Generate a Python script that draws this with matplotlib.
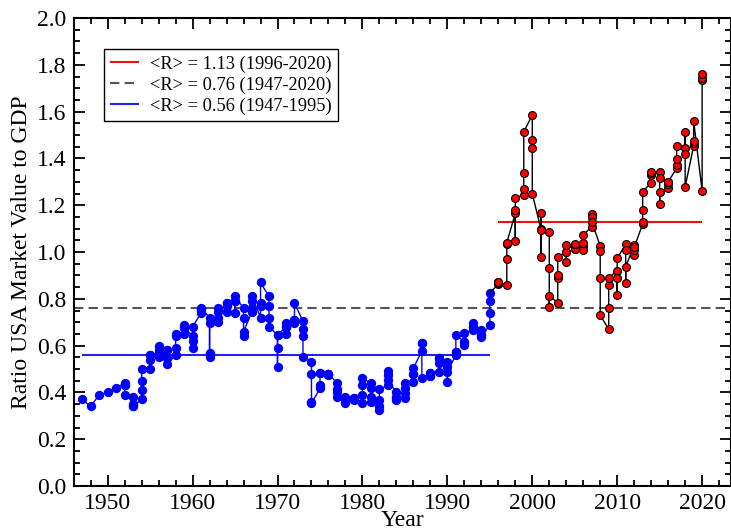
import numpy as np
import matplotlib.pyplot as plt
from matplotlib.ticker import MultipleLocator

# annual values before quarterly data starts
annual_years = [1947, 1948, 1949, 1950, 1951]
annual_ratio = [0.37, 0.34, 0.39, 0.40, 0.42]

# quarterly values, four per year, 1952-2020
quarter_years = list(range(1952, 2021))
quarter_ratio = [
    0.44, 0.43, 0.43, 0.39,      # 1952
    0.38, 0.35, 0.34, 0.34,      # 1953
    0.37, 0.41, 0.45, 0.50,      # 1954
    0.50, 0.54, 0.56, 0.56,      # 1955
    0.57, 0.60, 0.58, 0.55,      # 1956
    0.58, 0.58, 0.545, 0.52,     # 1957
    0.56, 0.59, 0.64, 0.65,      # 1958
    0.65, 0.69, 0.675, 0.68,     # 1959
    0.64, 0.59, 0.62, 0.68,      # 1960
    0.74, 0.75, 0.755, 0.76,     # 1961
    0.72, 0.55, 0.57, 0.695,     # 1962
    0.70, 0.717, 0.745, 0.76,    # 1963
    0.745, 0.77, 0.78, 0.78,     # 1964
    0.79, 0.74, 0.79, 0.81,      # 1965
    0.76, 0.72, 0.64, 0.66,      # 1966
    0.745, 0.76, 0.79, 0.81,     # 1967
    0.72, 0.78, 0.77, 0.87,      # 1968
    0.81, 0.77, 0.72, 0.68,      # 1969
    0.645, 0.51, 0.59, 0.645,    # 1970
    0.68, 0.695, 0.65, 0.68,     # 1971
    0.695, 0.71, 0.71, 0.78,     # 1972
    0.705, 0.67, 0.64, 0.55,     # 1973
    0.53, 0.477, 0.36, 0.353,    # 1974
    0.417, 0.43, 0.484, 0.484,   # 1975
    0.475, 0.48, 0.48, 0.48,     # 1976
    0.44, 0.415, 0.40, 0.38,     # 1977
    0.353, 0.38, 0.37, 0.36,     # 1978
    0.367, 0.375, 0.37, 0.375,   # 1979
    0.353, 0.39, 0.43, 0.46,     # 1980
    0.44, 0.42, 0.36, 0.38,      # 1981
    0.342, 0.325, 0.367, 0.413,  # 1982
    0.43, 0.475, 0.49, 0.453,    # 1983
    0.40, 0.38, 0.367, 0.375,    # 1984
    0.375, 0.396, 0.417, 0.44,   # 1985
    0.446, 0.48, 0.48, 0.503,    # 1986
    0.578, 0.61, 0.61, 0.46,     # 1987
    0.47, 0.484, 0.47, 0.484,    # 1988
    0.488, 0.524, 0.546, 0.546,  # 1989
    0.53, 0.51, 0.446, 0.488,    # 1990
    0.56, 0.574, 0.574, 0.645,   # 1991
    0.617, 0.603, 0.617, 0.653,  # 1992
    0.667, 0.68, 0.68, 0.695,    # 1993
    0.667, 0.645, 0.645, 0.635,  # 1994
    0.69, 0.74, 0.79, 0.826,     # 1995
    0.862, 0.866, 0.87, 0.872,   # 1996
    0.86, 0.97, 1.033, 1.04,     # 1997
    1.165, 1.18, 1.048, 1.232,   # 1998
    1.244, 1.268, 1.336, 1.514,  # 1999
    1.585, 1.479, 1.446, 1.25,   # 2000
    1.10, 1.165, 0.977, 1.094,   # 2001
    1.084, 0.93, 0.766, 0.813,   # 2002
    0.783, 0.89, 0.90, 0.98,     # 2003
    1.00, 1.00, 0.958, 1.03,     # 2004
    1.013, 1.02, 1.013, 1.033,   # 2005
    1.027, 1.008, 1.04, 1.073,   # 2006
    1.108, 1.162, 1.15, 1.13,    # 2007
    1.026, 1.006, 0.89, 0.73,    # 2008
    0.67, 0.76, 0.86, 0.89,      # 2009
    0.92, 0.816, 0.89, 0.973,    # 2010
    1.033, 1.01, 0.866, 0.937,   # 2011
    1.03, 0.987, 1.008, 1.02,    # 2012
    1.12, 1.13, 1.18, 1.258,     # 2013
    1.296, 1.33, 1.339, 1.343,   # 2014
    1.343, 1.315, 1.204, 1.258,  # 2015
    1.275, 1.29, 1.30, 1.30,     # 2016
    1.358, 1.372, 1.397, 1.453,  # 2017
    1.446, 1.42, 1.514, 1.279,   # 2018
    1.453, 1.467, 1.474, 1.56,   # 2019
    1.262, 1.735, 1.745, 1.759,  # 2020
]

# period means
mean_labels = ["<R> = 1.13 (1996-2020)", "<R> = 0.76 (1947-2020)", "<R> = 0.56 (1947-1995)"]
mean_values = [1.13, 0.76, 0.56]
mean_spans = [(1996, 2020), None, (1947, 1995)]

x = np.concatenate([annual_years, np.repeat(quarter_years, 4)]).astype(float)
y = np.concatenate([annual_ratio, quarter_ratio])
early = x <= 1995
k = np.count_nonzero(early)

plt.rcParams['font.family'] = ['Liberation Serif', 'DejaVu Serif']

fig = plt.figure(figsize=(7.31, 5.31), dpi=100)
ax = fig.add_axes([0.1008, 0.0847, 0.8992, 0.8814])

# blue: 1947-1995, red: 1996-2020
ax.plot(x[:k], y[:k], color='#0000ff', lw=1.0, marker='o', ms=5.7,
        mfc='#0000ff', mec='#0000ff', zorder=3)
ax.plot(x[k-1:], y[k-1:], color='k', lw=1.0, zorder=3)
ax.plot(x[k:], y[k:], ls='none', marker='o', ms=5.7, mfc='#ff0000',
        mec='k', mew=0.8, zorder=4)

ax.hlines(mean_values[0], *mean_spans[0], color='#ee1111', lw=1.5,
          label=mean_labels[0], zorder=2)
ax.axhline(mean_values[1], color='#555555', lw=1.5, ls=(0, (4.5, 2.5)),
           label=mean_labels[1], zorder=2)
ax.hlines(mean_values[2], *mean_spans[2], color='#2222ee', lw=1.5,
          label=mean_labels[2], zorder=2)

ax.set_xlim(1946, 2023.4)
ax.set_ylim(0, 2.0)
ax.xaxis.set_major_locator(MultipleLocator(10))
ax.xaxis.set_minor_locator(MultipleLocator(2))
ax.yaxis.set_major_locator(MultipleLocator(0.2))
ax.yaxis.set_minor_locator(MultipleLocator(0.05))
ax.yaxis.set_major_formatter(lambda v, p: f"{v:.1f}")
ax.tick_params(which='both', direction='in', top=True, right=True,
               labelsize=17, width=1.3)
ax.tick_params(which='major', length=8, pad=5)
ax.tick_params(which='minor', length=4)
for s in ax.spines.values():
    s.set_linewidth(1.5)

ax.set_xlabel("Year", fontsize=17, labelpad=-3)
ax.set_ylabel("Ratio USA Market Value to GDP", fontsize=17, labelpad=4)

leg = ax.legend(loc='upper left', bbox_to_anchor=(0.046, 0.934), borderaxespad=0,
                fontsize=13.2, fancybox=False, framealpha=1, edgecolor='k',
                handlelength=1.55, borderpad=0.35, labelspacing=0.2,
                handletextpad=0.6)
leg.get_frame().set_linewidth(1.0)

plt.savefig("out.png", dpi=100)
